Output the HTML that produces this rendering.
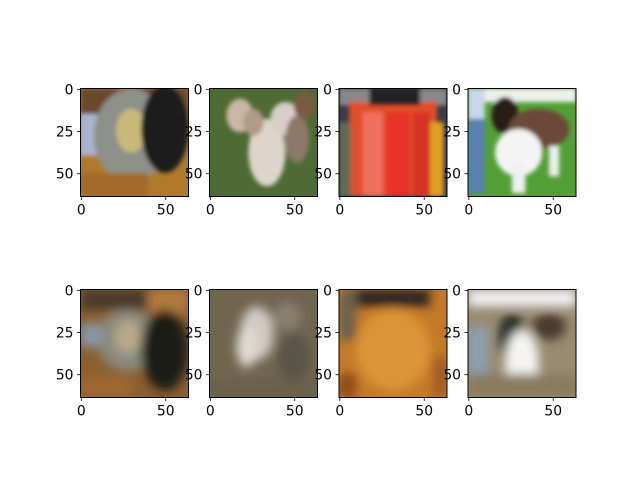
<!DOCTYPE html>
<html><head><meta charset="utf-8"><style>
html,body{margin:0;padding:0;background:#fff;}
svg{display:block;font-family:"DejaVu Sans","Liberation Sans",sans-serif;}
</style></head><body>
<svg id="fig" width="640" height="480" viewBox="0 0 640 480">
<defs>
<filter id="b1" x="-20%" y="-20%" width="140%" height="140%"><feGaussianBlur stdDeviation="2"/></filter>
<filter id="b2" x="-20%" y="-20%" width="140%" height="140%"><feGaussianBlur stdDeviation="5"/></filter>
</defs>
<g id="imgs"></g>
<g id="axes"></g>
</svg>
<script>
const xTicks=[0,50];
const yTicks=[0,25,50];
const imgSize=[64];
const colLeft=[80.5,209.5,339,468];
const rowTop=[88.5,289.5];
const W=108,H=108;
const NS="http://www.w3.org/2000/svg";
function el(t,a,p){const e=document.createElementNS(NS,t);for(const k in a)e.setAttribute(k,a[k]);p.appendChild(e);return e;}
// image contents: [bg, shapes...] in 0..64 units
const scenes=[
 {bg:"#b07a2c",blur:"b1",s:[["rect",0,0,64,20,"#6b4a2a"],["rect",0,15,10,25,"#a9b4cf"],["ellipse",30,28,22,28,"#8e908a"],["ellipse",30,25,9,13,"#c9b97a"],["ellipse",50,24,14,26,"#1c1a1a"],["rect",0,50,40,14,"#a36a2a"]]},
 {bg:"#4e6b34",blur:"b1",s:[["ellipse",18,16,8,10,"#c9b8a6"],["ellipse",34,38,11,20,"#ddd5cc"],["ellipse",45,18,9,10,"#d8cfc8"],["ellipse",52,30,7,14,"#8e7868"],["ellipse",56,10,6,8,"#7a5a40"],["ellipse",26,20,6,8,"#b09a88"]]},
 {bg:"#3a3d48",blur:"b1",s:[["rect",0,0,64,10,"#888"],["rect",6,8,52,56,"#e0502a"],["rect",14,14,12,50,"#f07060"],["rect",28,14,14,50,"#e8322a"],["rect",44,14,10,50,"#d83028"],["rect",54,20,8,44,"#e0a020"],["rect",0,20,7,44,"#606a58"],["rect",18,0,30,10,"#202028"]]},
 {bg:"#52a035",blur:"b1",s:[["rect",0,0,64,8,"#eef0f0"],["rect",0,0,10,20,"#c8d8ea"],["rect",0,18,10,44,"#5a7fb0"],["ellipse",22,16,8,11,"#2a1e18"],["ellipse",42,24,18,12,"#6a4a38"],["ellipse",30,38,14,14,"#f4f4f4"],["rect",26,44,8,18,"#f0f0f0"],["rect",48,34,6,18,"#eee"]]},
 {bg:"#8a6030",blur:"b2",s:[["rect",0,0,64,12,"#4a3a2a"],["rect",40,0,24,14,"#b07a40"],["ellipse",28,30,18,18,"#8a8a80"],["ellipse",28,28,8,10,"#b8a88a"],["rect",0,20,12,14,"#8898a8"],["ellipse",50,36,14,24,"#1e1a16"],["rect",0,52,30,12,"#a06830"]]},
 {bg:"#706650",blur:"b2",s:[["ellipse",28,26,10,16,"#d0ccc4"],["ellipse",22,34,6,12,"#e0dcd4"],["ellipse",50,40,10,14,"#5a5446"],["ellipse",46,16,8,8,"#8a8070"],["rect",0,54,64,10,"#6a604a"]]},
 {bg:"#c47a28",blur:"b2",s:[["rect",10,0,44,10,"#2a2420"],["rect",0,0,10,30,"#6a6050"],["ellipse",32,36,22,24,"#dc9438"],["rect",0,50,10,14,"#8a4a14"],["rect",56,40,8,24,"#a05a20"]]},
 {bg:"#9a8a70",blur:"b2",s:[["rect",0,0,64,10,"#f0f2f4"],["rect",0,22,12,28,"#8aa0b0"],["ellipse",26,28,8,14,"#2a2a28"],["ellipse",32,44,10,20,"#f4f4f2"],["ellipse",48,22,10,8,"#4a3a2e"],["rect",0,50,64,14,"#8a7a60"]]}
];
const gI=document.getElementById('imgs'),gA=document.getElementById('axes');
scenes.forEach((sc,i)=>{
 const L=colLeft[i%4],T=rowTop[Math.floor(i/4)],k=W/imgSize[0];
 const cp=el('clipPath',{id:'c'+i},gI);el('rect',{x:L,y:T,width:W,height:H},cp);
 const g=el('g',{'clip-path':'url(#c'+i+')'},gI);
 
 
 el('rect',{x:L,y:T,width:W,height:H,fill:sc.bg},g);
 const inner=el('g',{filter:'url(#'+sc.blur+')'},g);
 sc.s.forEach(s=>{
  if(s[0]==='rect')el('rect',{x:L+s[1]*k,y:T+s[2]*k,width:s[3]*k,height:s[4]*k,fill:s[5]},inner);
  else el('ellipse',{cx:L+s[1]*k,cy:T+s[2]*k,rx:s[3]*k,ry:s[4]*k,fill:s[5]},inner);
 });
 const fr=el('rect',{x:L,y:T,width:W,height:H,fill:'none',stroke:'#000','stroke-width':1},gA);
 
 
 const px=v=>L+(v+0.5)*k, py=v=>T+(v+0.5)*k;
 xTicks.forEach(v=>{
  el('line',{x1:px(v),x2:px(v),y1:T+H,y2:T+H+3.5,stroke:'#000','stroke-width':0.8},gA);
  const t=el('text',{x:px(v),y:T+H+18,'font-size':13.9,'text-anchor':'middle',fill:'#000'},gA);
  t.textContent=v;
  
  
 });
 yTicks.forEach(v=>{
  el('line',{x1:L-3.5,x2:L,y1:py(v),y2:py(v),stroke:'#000','stroke-width':0.8},gA);
  const t=el('text',{x:L-7,y:py(v)+5,'font-size':13.9,'text-anchor':'end',fill:'#000'},gA);
  t.textContent=v;
  
  
 });
});
</script>
</body></html>
